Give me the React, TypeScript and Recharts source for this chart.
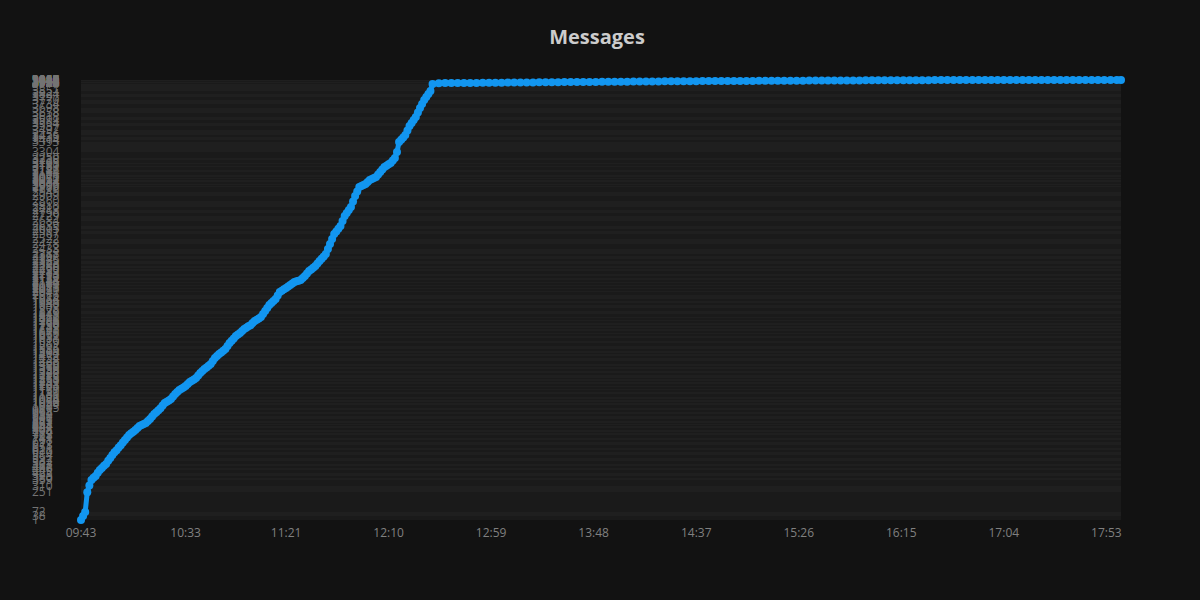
import { CartesianGrid, Line, LineChart, XAxis, YAxis } from "recharts";

// message counts over the day (one reading per minute while it climbs)
const times = [
  "09:43", "09:44", "09:45", "09:46", "09:47", "09:48", "09:49", "09:50", "09:51", "09:52",
  "09:53", "09:54", "09:55", "09:56", "09:57", "09:58", "09:59",
  "10:00", "10:01", "10:02", "10:03", "10:04", "10:05", "10:06", "10:07", "10:08", "10:09",
  "10:10", "10:11", "10:12", "10:13", "10:14", "10:15", "10:16", "10:17", "10:18", "10:19",
  "10:20", "10:21", "10:22", "10:23", "10:24", "10:25", "10:26", "10:27", "10:28", "10:29",
  "10:30", "10:31", "10:32", "10:33", "10:34", "10:35", "10:36", "10:37", "10:38", "10:39",
  "10:40", "10:41", "10:42", "10:43", "10:44", "10:45", "10:46", "10:47", "10:48", "10:49",
  "10:50", "10:51", "10:52", "10:53", "10:54", "10:55", "10:56", "10:57", "10:58", "10:59",
  "11:00", "11:01", "11:02", "11:03", "11:04", "11:05", "11:06", "11:07", "11:08", "11:09",
  "11:10", "11:11", "11:12", "11:13", "11:14", "11:15", "11:16", "11:17", "11:18", "11:19",
  "11:20", "11:21", "11:22", "11:23", "11:24", "11:25", "11:26", "11:27", "11:28", "11:29",
  "11:30", "11:31", "11:32", "11:33", "11:34", "11:35", "11:36", "11:37", "11:38", "11:39",
  "11:40", "11:41", "11:42", "11:43", "11:44", "11:45", "11:46", "11:47", "11:48", "11:49",
  "11:50", "11:51", "11:52", "11:53", "11:54", "11:55", "11:56", "11:57", "11:58", "11:59",
  "12:00", "12:01", "12:02", "12:03", "12:04", "12:05", "12:06", "12:07", "12:08", "12:09",
  "12:10", "12:11", "12:12", "12:13", "12:14", "12:15", "12:16", "12:17", "12:18", "12:19",
  "12:20", "12:21", "12:22", "12:23", "12:24", "12:25", "12:26", "12:27", "12:28", "12:29",
  "12:30", "12:31",
  "12:34", "12:37", "12:40", "12:43", "12:46", "12:49", "12:52", "12:55", "12:58",
  "13:01", "13:04", "13:07", "13:10", "13:13", "13:16", "13:19", "13:22", "13:25", "13:28",
  "13:31", "13:34", "13:37", "13:40", "13:43", "13:46", "13:49", "13:52", "13:55", "13:58",
  "14:01", "14:04", "14:07", "14:10", "14:13", "14:16", "14:19", "14:22", "14:25", "14:28",
  "14:31", "14:34", "14:37", "14:40", "14:43", "14:46", "14:49", "14:52", "14:55", "14:58",
  "15:01", "15:04", "15:07", "15:10", "15:13", "15:16", "15:19", "15:22", "15:25", "15:28",
  "15:31", "15:34", "15:37", "15:40", "15:43", "15:46", "15:49", "15:52", "15:55", "15:58",
  "16:01", "16:04", "16:07", "16:10", "16:13", "16:16", "16:19", "16:22", "16:25", "16:28",
  "16:31", "16:34", "16:37", "16:40", "16:43", "16:46", "16:49", "16:52", "16:55", "16:58",
  "17:01", "17:04", "17:07", "17:10", "17:13", "17:16", "17:19", "17:22", "17:25", "17:28",
  "17:31", "17:34", "17:37", "17:40", "17:43", "17:46", "17:49", "17:52", "17:55", "17:58",
  "18:00",
];

const counts = [
  1, 38, 72, 251, 310, 359, 380, 395, 425, 449,
  468, 487, 503, 532, 557, 584, 610,
  628, 651, 673, 697, 718, 741, 763, 779, 794, 808,
  827, 844, 853, 862, 871, 889, 907, 930, 952, 968,
  987, 1005, 1029, 1050, 1062, 1074, 1086, 1109, 1131, 1150,
  1167, 1179, 1191, 1203, 1222, 1239, 1251, 1263, 1275, 1298,
  1320, 1338, 1356, 1370, 1385, 1400, 1428, 1454, 1472, 1490,
  1504, 1519, 1535, 1562, 1589, 1610, 1631, 1652, 1666, 1679,
  1697, 1715, 1727, 1739, 1750, 1768, 1786, 1798, 1810, 1822,
  1849, 1876, 1903, 1930, 1948, 1966, 1984, 2016, 2047, 2059,
  2071, 2083, 2097, 2110, 2124, 2137, 2143, 2148, 2154, 2172,
  2190, 2213, 2235, 2250, 2265, 2280, 2303, 2325, 2346, 2367,
  2388, 2433, 2478, 2522, 2567, 2591, 2615, 2639, 2684, 2729,
  2756, 2783, 2810, 2860, 2909, 2949, 2989, 2998, 3007, 3016,
  3034, 3052, 3061, 3070, 3079, 3101, 3124, 3146, 3169, 3181,
  3193, 3205, 3228, 3250, 3304, 3393, 3414, 3435, 3456, 3497,
  3537, 3564, 3591, 3618, 3658, 3698, 3734, 3770, 3797, 3824,
  3851, 3914,
  3921, 3922, 3922, 3923, 3923, 3924, 3924, 3925, 3925,
  3926, 3926, 3927, 3927, 3928, 3928, 3928, 3929, 3929, 3930,
  3930, 3931, 3931, 3932, 3932, 3933, 3933, 3934, 3934, 3934,
  3935, 3935, 3936, 3936, 3936, 3937, 3937, 3938, 3938, 3938,
  3939, 3939, 3939, 3940, 3940, 3940, 3941, 3941, 3941, 3942,
  3942, 3942, 3943, 3943, 3943, 3943, 3944, 3944, 3944, 3944,
  3945, 3945, 3945, 3945, 3946, 3946, 3946, 3946, 3946, 3947,
  3947, 3947, 3947, 3947, 3948, 3948, 3948, 3948, 3948, 3948,
  3949, 3949, 3949, 3949, 3949, 3949, 3949, 3950, 3950, 3950,
  3950, 3950, 3950, 3950, 3950, 3950, 3950, 3950, 3950, 3950,
  3950, 3950, 3950, 3950, 3950, 3950, 3950, 3950, 3950, 3950,
  3950,
];

const xTickLabels = [
  "09:43", "10:33", "11:21", "12:10", "12:59", "13:48",
  "14:37", "15:26", "16:15", "17:04", "17:53",
];

const toMin = (t: string) => {
  const [h, m] = t.split(":").map(Number);
  return h * 60 + m;
};
const start = toMin(times[0]);

const data = times.map((t, i) => ({ m: toMin(t) - start, label: t, count: counts[i] }));
const xTicks = xTickLabels.map((t) => toMin(t) - start);
const yTicks = Array.from(new Set(counts));

const BLUE = "#1296f0";

const YTick = (props: any) => {
  const { y, payload } = props;
  return (
    <text x={32} y={y} dy={4} textAnchor="start" fill="#747474" fontSize={12}>
      {payload.value}
    </text>
  );
};

export default function App() {
  return (
    <div
      style={{
        position: "absolute",
        left: 0,
        top: 0,
        width: 1200,
        height: 600,
        background: "#121212",
        fontFamily: "'Open Sans', sans-serif",
      }}
    >
      <div
        style={{
          position: "absolute",
          top: 24,
          width: 1194,
          textAlign: "center",
          color: "#cccccc",
          fontSize: 20,
          fontWeight: 700,
          lineHeight: "26px",
        }}
      >
        Messages
      </div>
      <LineChart
        width={1200}
        height={600}
        data={data}
        margin={{ top: 80, right: 79, bottom: 50, left: 0 }}
      >
        <CartesianGrid
          vertical={false}
          stroke="none"
          horizontalFill={["#1f1f1f", "#1a1a1a"]}
        />
        <XAxis
          dataKey="m"
          type="number"
          domain={[0, 497]}
          ticks={xTicks}
          interval={0}
          tickFormatter={(v: number) => xTickLabels[xTicks.indexOf(v)] ?? ""}
          axisLine={false}
          tickLine={false}
          tick={{ fill: "#808080", fontSize: 12 }}
          height={30}
        />
        <YAxis
          type="number"
          domain={["dataMin", "dataMax"]}
          ticks={yTicks}
          interval={0}
          axisLine={false}
          tickLine={false}
          tick={<YTick />}
          width={81}
        />
        <Line
          type="linear"
          dataKey="count"
          stroke={BLUE}
          strokeWidth={5}
          strokeLinejoin="round"
          dot={{ r: 4, fill: BLUE, stroke: BLUE, strokeWidth: 0 }}
          isAnimationActive={false}
        />
      </LineChart>
    </div>
  );
}
